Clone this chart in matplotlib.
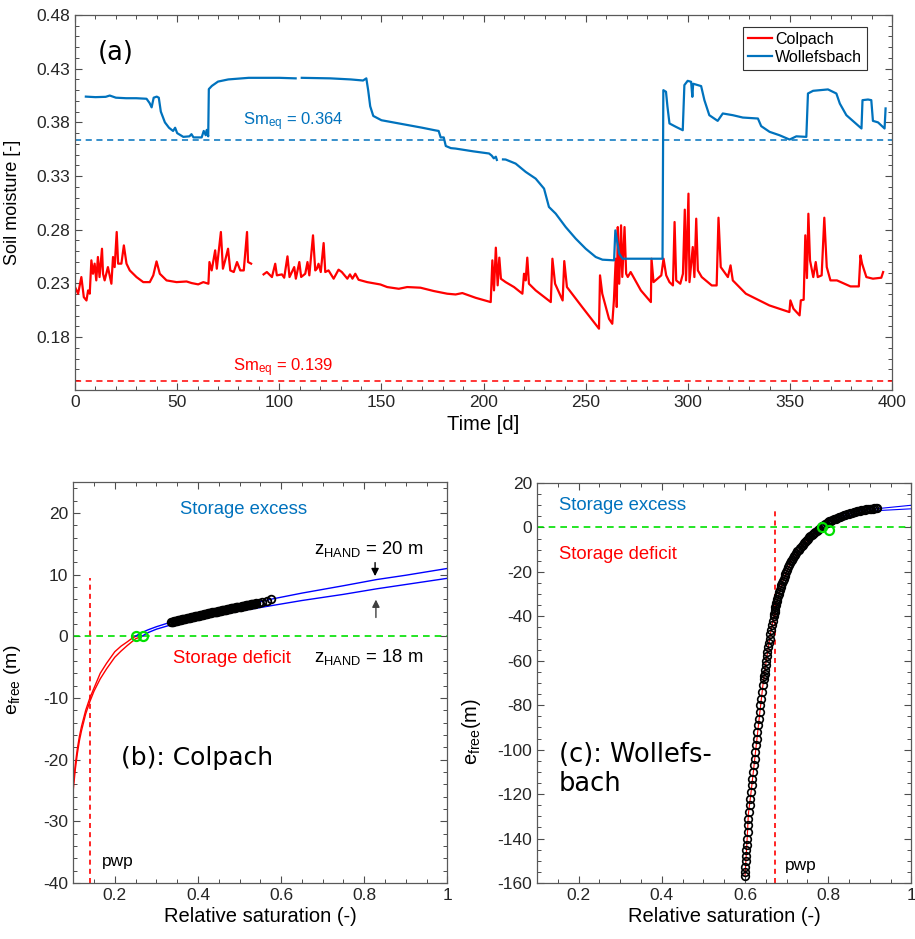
import numpy as np
import matplotlib
matplotlib.use("Agg")
import matplotlib.pyplot as plt
from matplotlib.ticker import MultipleLocator, FormatStrFormatter

plt.rcParams['font.family'] = ['Liberation Sans', 'DejaVu Sans']
plt.rcParams['mathtext.default'] = 'regular'
plt.rcParams['axes.unicode_minus'] = False

BLUE = '#0072BD'
RED = '#FF0000'
GREEN = '#00E000'
nan = np.nan

# ---- (a) soil moisture time series ----
colpach_t = [0, 1.5, 3.1, 4.3, 5.6, 6.4, 7.2, 8.0, 8.8, 9.6, 10.4, 11.2, 12.0, 13.2, 13.7, 14.5,
             16.1, 17.8, 18.6, 19.4, 20.4, 21.1, 22.7, 23.9, 25.2, 26.8, 30.1, 33.4, 36.6, 38.3,
             39.9, 41.5, 44.8, 49.7, 54.6, 57.1, 60.3, 62.8, 65.3, 65.8, 66.9, 68.6, 69.4, 71.4,
             72.4, 73.5, 74.9, 76.0, 77.7, 79.3, 80.9, 82.6, 84.2, 84.7, 86.2, 89,
             92.3, 93.9, 96.4, 98, 98.8, 101.3, 102.4, 104, 105, 107.3, 108.1, 109.8, 110.7,
             112.7, 113.8, 114.7, 116.5, 117.6, 118.4, 119.2, 120.3, 121.7, 122.5, 124.1, 126.6,
             129, 130.6, 133.3, 134.6, 135.8, 137.2, 138.8, 143, 149.5, 152.8, 158.5, 162.6,
             169.1, 175.6, 182.2, 186.3, 189.6, 196.1, 203.5, 204.3, 205.1, 206, 206.9, 207.7,
             208.5, 210.8, 214.9, 219, 219.8, 220.6, 221.4, 222.2, 225.5, 232.9, 233.7, 235,
             238.7, 239.5, 240.8, 248.3, 256.5, 257, 258.1, 261.4, 263, 263.8, 264.7, 265.2,
             265.7, 266.4, 267.3, 267.9, 269, 269.8, 270.6, 272, 277, 281.9, 282.2, 283.2, 287,
             288.1, 289.4, 291, 292.7, 293.5, 294.3, 296.3, 297.6, 298.5, 299.1, 300.3, 300.8,
             302.4, 303.2, 304.1, 304.9, 306.8, 311.7, 314.1, 315, 316.1, 319.6, 320.9, 322,
             328.4, 339.9, 349.7, 350.2, 351.7, 354.7, 355.3, 356.7, 357.5, 358.3, 359, 359.8,
             361.4, 362.6, 363.6, 365.5, 366.8, 368, 369.8, 373, 379.6, 383.7, 384.5, 385.3,
             387.4, 390.6, 394.7, 395.6]
colpach_sm = [0.2266, 0.2204, 0.2359, 0.2172, 0.2141, 0.2235, 0.2204, 0.2515, 0.2390, 0.2484,
              0.2328, 0.2546, 0.2359, 0.2623, 0.2390, 0.2328, 0.2452, 0.2297, 0.2546, 0.2452,
              0.2779, 0.2484, 0.2484, 0.2654, 0.2484, 0.2421, 0.2359, 0.2312, 0.2312, 0.2375,
              0.2505, 0.2390, 0.2328, 0.2312, 0.2318, 0.2303, 0.2291, 0.2312, 0.2297, 0.2499,
              0.2421, 0.2608, 0.2437, 0.2779, 0.2437, 0.2515, 0.2623, 0.2421, 0.2406, 0.2499,
              0.2421, 0.2421, 0.2779, 0.2499, 0.2484, nan,
              0.2384, 0.2406, 0.2359, 0.2483, 0.2375, 0.2384, 0.2353, 0.2552, 0.2359, 0.2452,
              0.2344, 0.2499, 0.2360, 0.2390, 0.2499, 0.2375, 0.2748, 0.2421, 0.2437, 0.2483,
              0.2406, 0.2676, 0.2406, 0.2421, 0.2344, 0.2428, 0.2406, 0.2344, 0.2384, 0.2344,
              0.2390, 0.2334, 0.2312, 0.2290, 0.2266, 0.2250, 0.2266, 0.2260, 0.2229, 0.2204,
              0.2197, 0.2210, 0.2166, 0.2126, 0.2515, 0.2235, 0.2633, 0.2282, 0.2540, 0.2343,
              0.2312, 0.2266, 0.2204, 0.2390, 0.2328, 0.2540, 0.2297, 0.2235, 0.2126, 0.2530,
              0.2297, 0.2141, 0.2508, 0.2266, 0.2079, 0.1878, 0.2375, 0.2204, 0.1970, 0.1924,
              0.2142, 0.2530, 0.2080, 0.2825, 0.2297, 0.2841, 0.2360, 0.2825, 0.2390, 0.2360,
              0.2406, 0.2235, 0.2126, 0.2530, 0.2312, 0.2375, 0.2530, 0.2375, 0.2312, 0.2281,
              0.2872, 0.2328, 0.2297, 0.2390, 0.2987, 0.2328, 0.3136, 0.2312, 0.2639, 0.2359,
              0.2903, 0.2421, 0.2359, 0.2281, 0.2281, 0.2912, 0.2452, 0.2359, 0.2468, 0.2328,
              0.2204, 0.2095, 0.2033, 0.2142, 0.2064, 0.2002, 0.2142, 0.2148, 0.2748, 0.2350,
              0.2949, 0.2515, 0.2359, 0.2499, 0.2359, 0.2375, 0.2912, 0.2452, 0.2328, 0.2328,
              0.2272, 0.2272, 0.2561, 0.2483, 0.2359, 0.2344, 0.2353, 0.2406]

wollef_t = [5.3, 10, 15, 17, 20, 25, 30, 35, 36.5, 37.5, 38.5, 40, 41, 42, 43, 44, 46, 48, 49, 50,
            53, 56, 57, 58, 62, 63, 64, 64.5, 65.2, 65.5, 67, 70, 75, 85, 100, 108, 109.5, 111,
            125, 135, 141, 142.6, 143.5, 144.5, 146, 150, 160, 170, 176, 178, 179, 180.5, 181.5,
            184, 186.3, 195, 202.7, 204, 205, 206, 206.5, 208, 209.5, 210.8, 215.7, 220.6, 225.5,
            229.6, 232, 235.3, 240.2, 245.1, 250, 254.9, 258.2, 263.9, 264.5, 266.4, 268, 287.6,
            288, 289.3, 290, 291, 294.2, 297.5, 298.3, 299.9, 301.6, 302.2, 302.6, 306.5, 308.1,
            310.5, 314.6, 317.1, 322, 326.9, 334.3, 335.9, 340, 344.9, 349.8, 353.1, 358, 358.8,
            361.3, 368.6, 372.7, 374.4, 377.6, 385, 385.5, 388.2, 389.8, 390.6, 393.1, 396.3,
            396.8]
wollef_sm = [0.4040, 0.4035, 0.4038, 0.4050, 0.4030, 0.4025, 0.4025, 0.4020, 0.3980, 0.3940,
             0.4030, 0.4040, 0.4030, 0.3900, 0.3850, 0.3800, 0.3750, 0.3720, 0.3750, 0.3700,
             0.3665, 0.3670, 0.3690, 0.3660, 0.3660, 0.3720, 0.3680, 0.3730, 0.3670, 0.4110,
             0.4140, 0.4180, 0.4200, 0.4215, 0.4215, 0.4210, nan, 0.4215,
             0.4210, 0.4200, 0.4190, 0.4210, 0.4100, 0.3950, 0.3860, 0.3820, 0.3785, 0.3750,
             0.3727, 0.3720, 0.3660, 0.3660, 0.3580, 0.3560, 0.3556, 0.3530, 0.3510, 0.3490,
             0.3465, 0.3480, 0.3450, nan, 0.3455, 0.3454, 0.3416, 0.3339, 0.3276, 0.3183, 0.3012,
             0.2950, 0.2825, 0.2717, 0.2623, 0.2546, 0.2521, 0.2515, 0.2794, 0.2577, 0.2530,
             0.2530, 0.4100, 0.4085, 0.3950, 0.3790, 0.3758, 0.3727, 0.4147, 0.4187, 0.4178,
             0.4038, 0.4160, 0.4138, 0.4007, 0.3867, 0.3814, 0.3883, 0.3867, 0.3845, 0.3836,
             0.3765, 0.3712, 0.3680, 0.3640, 0.3670, 0.3665, 0.4069, 0.4094, 0.4107, 0.4069,
             0.3975, 0.3867, 0.3743, 0.4007, 0.4013, 0.4007, 0.3814, 0.3800, 0.3743, 0.3930]

sm_eq_colpach = 0.139
sm_eq_wollef = 0.364

# ---- (b) Colpach e_free curves ----
b_blue20_s = [0.25, 0.26, 0.28, 0.30, 0.335, 0.40, 0.50, 0.575, 0.65, 0.75, 0.83, 0.90, 1.0]
b_blue20_e = [0.0, 0.45, 1.05, 1.55, 2.30, 3.34, 4.79, 6.0, 7.0, 8.2, 9.2, 9.9, 11.0]
b_blue18_s = [0.265, 0.28, 0.30, 0.335, 0.40, 0.50, 0.575, 0.65, 0.75, 0.83, 0.90, 1.0]
b_blue18_e = [0.0, 0.6, 1.15, 1.85, 2.85, 4.1, 4.95, 5.8, 6.8, 7.7, 8.4, 9.4]
b_red20_s = [0.100, 0.105, 0.110, 0.115, 0.120, 0.130, 0.140, 0.150, 0.165, 0.180, 0.200,
             0.215, 0.230, 0.240, 0.250]
b_red20_e = [-24.1, -20.8, -18.2, -16.2, -14.6, -12.0, -10.0, -8.4, -6.0, -4.4, -2.5, -1.6,
             -0.9, -0.4, 0.0]
b_red18_s = [0.100, 0.105, 0.110, 0.115, 0.120, 0.130, 0.140, 0.150, 0.165, 0.180, 0.200,
             0.215, 0.230, 0.250, 0.265]
b_red18_e = [-25.0, -21.6, -19.0, -16.9, -15.3, -12.6, -10.6, -8.9, -6.9, -5.3, -3.4, -2.4,
             -1.5, -0.4, 0.0]
b_obs_s = [0.335, 0.3375, 0.340, 0.3425, 0.345, 0.3475, 0.350, 0.3525, 0.355, 0.3575, 0.360,
           0.3625, 0.365, 0.3675, 0.370, 0.3725, 0.375, 0.3775, 0.380, 0.3825, 0.385, 0.3875,
           0.390, 0.3925, 0.395, 0.3975, 0.400, 0.4025, 0.405, 0.4075, 0.410, 0.4125, 0.415,
           0.4175, 0.420, 0.4225, 0.425, 0.4275, 0.430, 0.4325, 0.435, 0.4375, 0.440, 0.4425,
           0.445, 0.4475, 0.450, 0.4525, 0.455, 0.4575, 0.460, 0.4625, 0.465, 0.4675, 0.470,
           0.4725, 0.475, 0.4775, 0.480, 0.4825, 0.485, 0.4875, 0.490, 0.4925, 0.495, 0.4975,
           0.500, 0.5025, 0.505, 0.5075, 0.510, 0.5125, 0.515, 0.5175, 0.520, 0.5225, 0.525,
           0.5275, 0.530, 0.5325, 0.535, 0.5375, 0.540, 0.547, 0.555, 0.565, 0.575]
b_obs_e = [2.30, 2.34, 2.38, 2.42, 2.46, 2.50, 2.54, 2.58, 2.62, 2.66, 2.70, 2.74, 2.78, 2.82,
           2.86, 2.90, 2.94, 2.98, 3.02, 3.06, 3.10, 3.14, 3.18, 3.22, 3.26, 3.30, 3.34, 3.37,
           3.41, 3.45, 3.49, 3.52, 3.56, 3.60, 3.64, 3.67, 3.71, 3.75, 3.79, 3.82, 3.86, 3.90,
           3.94, 3.97, 4.01, 4.04, 4.08, 4.12, 4.16, 4.19, 4.23, 4.26, 4.30, 4.33, 4.37, 4.40,
           4.44, 4.47, 4.51, 4.54, 4.58, 4.61, 4.65, 4.68, 4.72, 4.75, 4.79, 4.82, 4.86, 4.89,
           4.93, 4.96, 5.00, 5.03, 5.07, 5.10, 5.13, 5.16, 5.20, 5.23, 5.27, 5.30, 5.34, 5.45,
           5.60, 5.80, 6.00]
b_zero_s = [0.252, 0.267]
b_pwp = 0.14

# ---- (c) Wollefsbach e_free curves ----
c_red_s = [0.600, 0.603, 0.606, 0.608, 0.614, 0.620, 0.627, 0.634, 0.643, 0.651, 0.661, 0.673,
           0.689, 0.709, 0.736, 0.757, 0.775, 0.782]
c_red_e = [-157, -147, -137, -129, -120, -110, -98, -86, -71, -60, -48, -36, -25, -16, -8.5,
           -4, -1, 0]
c_blue20_s = [0.782, 0.797, 0.818, 0.849, 0.888, 0.92, 1.0]
c_blue20_e = [0.0, 2.0, 4.0, 6.2, 8.0, 8.5, 10.0]
c_blue18_s = [0.795, 0.81, 0.83, 0.86, 0.89, 0.92, 1.0]
c_blue18_e = [0.0, 2.3, 4.0, 5.7, 6.8, 7.6, 8.4]
c_obs_e = [-157, -155, -153, -150, -148, -145, -143, -140, -137, -134, -131, -128, -125, -122,
           -119, -116, -113, -110, -107, -104, -101, -98, -95, -92, -89, -86, -83, -80, -77,
           -74, -71, -68, -67, -66, -64, -62, -60, -58, -56, -54, -52, -50, -48, -46, -44, -42,
           -40, -39, -38, -37, -36, -35, -34, -33, -32, -31, -30, -29, -28, -27, -26, -25, -24,
           -23, -22, -21, -20, -19, -18, -17, -16, -15.2, -14.5, -13.7, -13, -12.2, -11.5,
           -10.7, -10, -9.2, -8.5, -7.7, -7, -6.5, -6, -5.5, -5, -4.5, -4, -3.5, -3, -2.5, -2,
           -1.5, -1, -0.5, 0, 0.5, 1, 1.5, 2, 2.35, 2.7, 3.0, 3.3, 3.65, 4, 4.3, 4.6, 4.85, 5.1,
           5.4, 5.7, 5.95, 6.2, 6.45, 6.7, 6.9, 7.1, 7.25, 7.4, 7.55, 7.7, 7.85, 8.0, 8.1, 8.2,
           8.3, 8.4, 8.5, 8.6, 8.65, 8.7]
c_obs_s = [0.600, 0.600, 0.601, 0.602, 0.603, 0.603, 0.604, 0.605, 0.606, 0.606, 0.607, 0.609,
           0.611, 0.613, 0.614, 0.616, 0.618, 0.620, 0.622, 0.623, 0.625, 0.627, 0.628, 0.630,
           0.632, 0.634, 0.635, 0.637, 0.639, 0.641, 0.643, 0.645, 0.646, 0.647, 0.648, 0.650,
           0.651, 0.653, 0.654, 0.656, 0.658, 0.659, 0.661, 0.663, 0.665, 0.667, 0.669, 0.670,
           0.671, 0.672, 0.673, 0.674, 0.675, 0.6765, 0.678, 0.6795, 0.681, 0.6825, 0.684,
           0.6855, 0.687, 0.689, 0.691, 0.693, 0.695, 0.697, 0.699, 0.7015, 0.704, 0.7065,
           0.709, 0.711, 0.713, 0.7155, 0.718, 0.7205, 0.723, 0.726, 0.729, 0.7325, 0.736,
           0.739, 0.742, 0.7445, 0.747, 0.7495, 0.752, 0.7545, 0.757, 0.760, 0.763, 0.766,
           0.769, 0.772, 0.775, 0.7785, 0.782, 0.7855, 0.789, 0.793, 0.797, 0.800, 0.803,
           0.8065, 0.810, 0.814, 0.818, 0.822, 0.826, 0.8295, 0.833, 0.837, 0.841, 0.845,
           0.849, 0.853, 0.857, 0.861, 0.865, 0.8685, 0.872, 0.876, 0.880, 0.884, 0.888,
           0.892, 0.896, 0.900, 0.904, 0.9075, 0.911, 0.9145, 0.918]
c_zero_s = [0.786, 0.803]
c_zero_e = [0.0, -1.0]
c_pwp = 0.671


def matlab_style(ax):
    for sp in ax.spines.values():
        sp.set_color('0.35')
        sp.set_linewidth(0.9)
    ax.tick_params(which='both', direction='in', top=True, right=True, color='0.3',
                   labelcolor='0.15', labelsize=12.5)
    ax.tick_params(which='major', length=5, width=0.8)
    ax.tick_params(which='minor', length=3, width=0.7)


fig = plt.figure(figsize=(9.15, 9.39), dpi=100)

# (a)
ax = fig.add_axes([0.082, 0.585, 0.893, 0.399])
ax.plot(colpach_t, colpach_sm, color=RED, lw=1.6, label='Colpach')
ax.plot(wollef_t, wollef_sm, color=BLUE, lw=1.6, label='Wollefsbach')
ax.axhline(sm_eq_wollef, color=BLUE, ls='--', lw=1.1, dashes=(4, 3))
ax.axhline(sm_eq_colpach, color=RED, ls='--', lw=1.1, dashes=(4, 3))
ax.text(82.4, 0.377, 'Sm$_{eq}$ = %.3f' % sm_eq_wollef, color=BLUE, fontsize=12, va='baseline')
ax.text(77.5, 0.1482, 'Sm$_{eq}$ = %.3f' % sm_eq_colpach, color=RED, fontsize=12, va='baseline')
ax.text(11.3, 0.438, '(a)', fontsize=18.5, family='DejaVu Sans', va='baseline')
ax.set_xlim(0, 400)
ax.set_ylim(0.131, 0.48)
ax.set_xticks(np.arange(0, 401, 50))
ax.set_yticks([0.18, 0.23, 0.28, 0.33, 0.38, 0.43, 0.48])
ax.yaxis.set_major_formatter(FormatStrFormatter('%.2f'))
ax.xaxis.set_minor_locator(MultipleLocator(10))
ax.yaxis.set_minor_locator(MultipleLocator(0.01))
matlab_style(ax)
ax.set_xlabel('Time [d]', fontsize=14.5, labelpad=4)
ax.set_ylabel('Soil moisture [-]', fontsize=13)
ax.yaxis.set_label_coords(-0.066, 0.5)
leg = ax.legend(loc='upper right', bbox_to_anchor=(0.969, 0.968), fontsize=11.5,
                frameon=True, fancybox=False, edgecolor='0.2', framealpha=1,
                handlelength=1.5, handletextpad=0.2, borderpad=0.3, labelspacing=0.2,
                borderaxespad=0)
leg.get_frame().set_linewidth(0.8)

# (b)
ax = fig.add_axes([0.080, 0.0596, 0.409, 0.427])
ax.axhline(0, color=GREEN, ls='--', lw=1.2, dashes=(4, 3))
ax.plot([b_pwp, b_pwp], [-40, 9.5], color=RED, ls='--', lw=1.2, dashes=(3, 2.5))
ax.plot(b_red20_s, b_red20_e, color=RED, lw=1.0)
ax.plot(b_red18_s, b_red18_e, color=RED, lw=1.0)
ax.plot(b_blue20_s, b_blue20_e, color='#0000FF', lw=1.0)
ax.plot(b_blue18_s, b_blue18_e, color='#0000FF', lw=1.0)
ax.plot(b_obs_s, b_obs_e, ls='none', marker='o', ms=5.5, mfc='none', mec='k', mew=1.3)
ax.plot(b_zero_s, [0, 0], ls='none', marker='o', ms=6.5, mfc='none', mec=GREEN, mew=1.6)
ax.annotate('', xy=(0.826, 9.3), xytext=(0.826, 12.4),
            arrowprops=dict(arrowstyle='-|>', color='k', lw=1.0, mutation_scale=11))
ax.annotate('', xy=(0.828, 6.4), xytext=(0.828, 2.6),
            arrowprops=dict(arrowstyle='-|>', color='0.25', lw=1.0, mutation_scale=11))
ax.text(0.358, 20.6, 'Storage excess', color=BLUE, fontsize=13.3, va='center')
ax.text(0.34, -3.6, 'Storage deficit', color=RED, fontsize=13.3, va='center')
ax.text(0.679, 13.4, 'z$_{HAND}$ = 20 m', fontsize=13.3, va='baseline')
ax.text(0.679, -4.15, 'z$_{HAND}$ = 18 m', fontsize=13.3, va='baseline')
ax.text(0.214, -20.9, '(b): Colpach', fontsize=18, family='DejaVu Sans', va='baseline')
ax.text(0.17, -37.3, 'pwp', fontsize=12.5, va='baseline')
ax.set_xlim(0.1, 1)
ax.set_ylim(-40, 25)
ax.set_xticks([0.2, 0.4, 0.6, 0.8, 1.0])
ax.set_xticklabels(['0.2', '0.4', '0.6', '0.8', '1'])
ax.set_yticks(np.arange(-40, 21, 10))
ax.xaxis.set_minor_locator(MultipleLocator(0.05))
ax.yaxis.set_minor_locator(MultipleLocator(2))
matlab_style(ax)
ax.set_xlabel('Relative saturation (-)', fontsize=14.5, labelpad=3)
ax.set_ylabel('e$_{free}$ (m)', fontsize=14)
ax.yaxis.set_label_coords(-0.135, 0.506)

# (c)
ax = fig.add_axes([0.587, 0.0596, 0.409, 0.426])
ax.axhline(0, color=GREEN, ls='--', lw=1.2, dashes=(4, 3))
ax.plot([c_pwp, c_pwp], [-160, 7.2], color=RED, ls='--', lw=1.2, dashes=(3, 2.5))
ax.plot(c_blue20_s, c_blue20_e, color='#0000FF', lw=0.8)
ax.plot(c_blue18_s, c_blue18_e, color='#0000FF', lw=0.8)
ax.plot(c_red_s, c_red_e, color=RED, lw=0.8)
ax.plot(c_obs_s, c_obs_e, ls='none', marker='o', ms=5.5, mfc='none', mec='k', mew=1.2)
ax.plot(c_zero_s, c_zero_e, ls='none', marker='o', ms=6.5, mfc='none', mec=GREEN, mew=1.6)
ax.text(0.152, 8.0, 'Storage excess', color=BLUE, fontsize=13.3, va='baseline')
ax.text(0.152, -14.1, 'Storage deficit', color=RED, fontsize=13.3, va='baseline')
ax.text(0.152, -96.5, '(c): Wollefs-\nbach', fontsize=18.5, family='DejaVu Sans', va='top',
        linespacing=1.15)
ax.text(0.697, -154, 'pwp', fontsize=12.5, va='baseline')
ax.set_xlim(0.1, 1)
ax.set_ylim(-160, 20)
ax.set_xticks([0.2, 0.4, 0.6, 0.8, 1.0])
ax.set_xticklabels(['0.2', '0.4', '0.6', '0.8', '1'])
ax.set_yticks(np.arange(-160, 21, 20))
ax.xaxis.set_minor_locator(MultipleLocator(0.05))
ax.yaxis.set_minor_locator(MultipleLocator(5))
matlab_style(ax)
ax.set_xlabel('Relative saturation (-)', fontsize=14.5, labelpad=3)
ax.set_ylabel('e$_{free}$(m)', fontsize=14.5)
ax.yaxis.set_label_coords(-0.145, 0.38)

fig.savefig('out.png', dpi=100)
